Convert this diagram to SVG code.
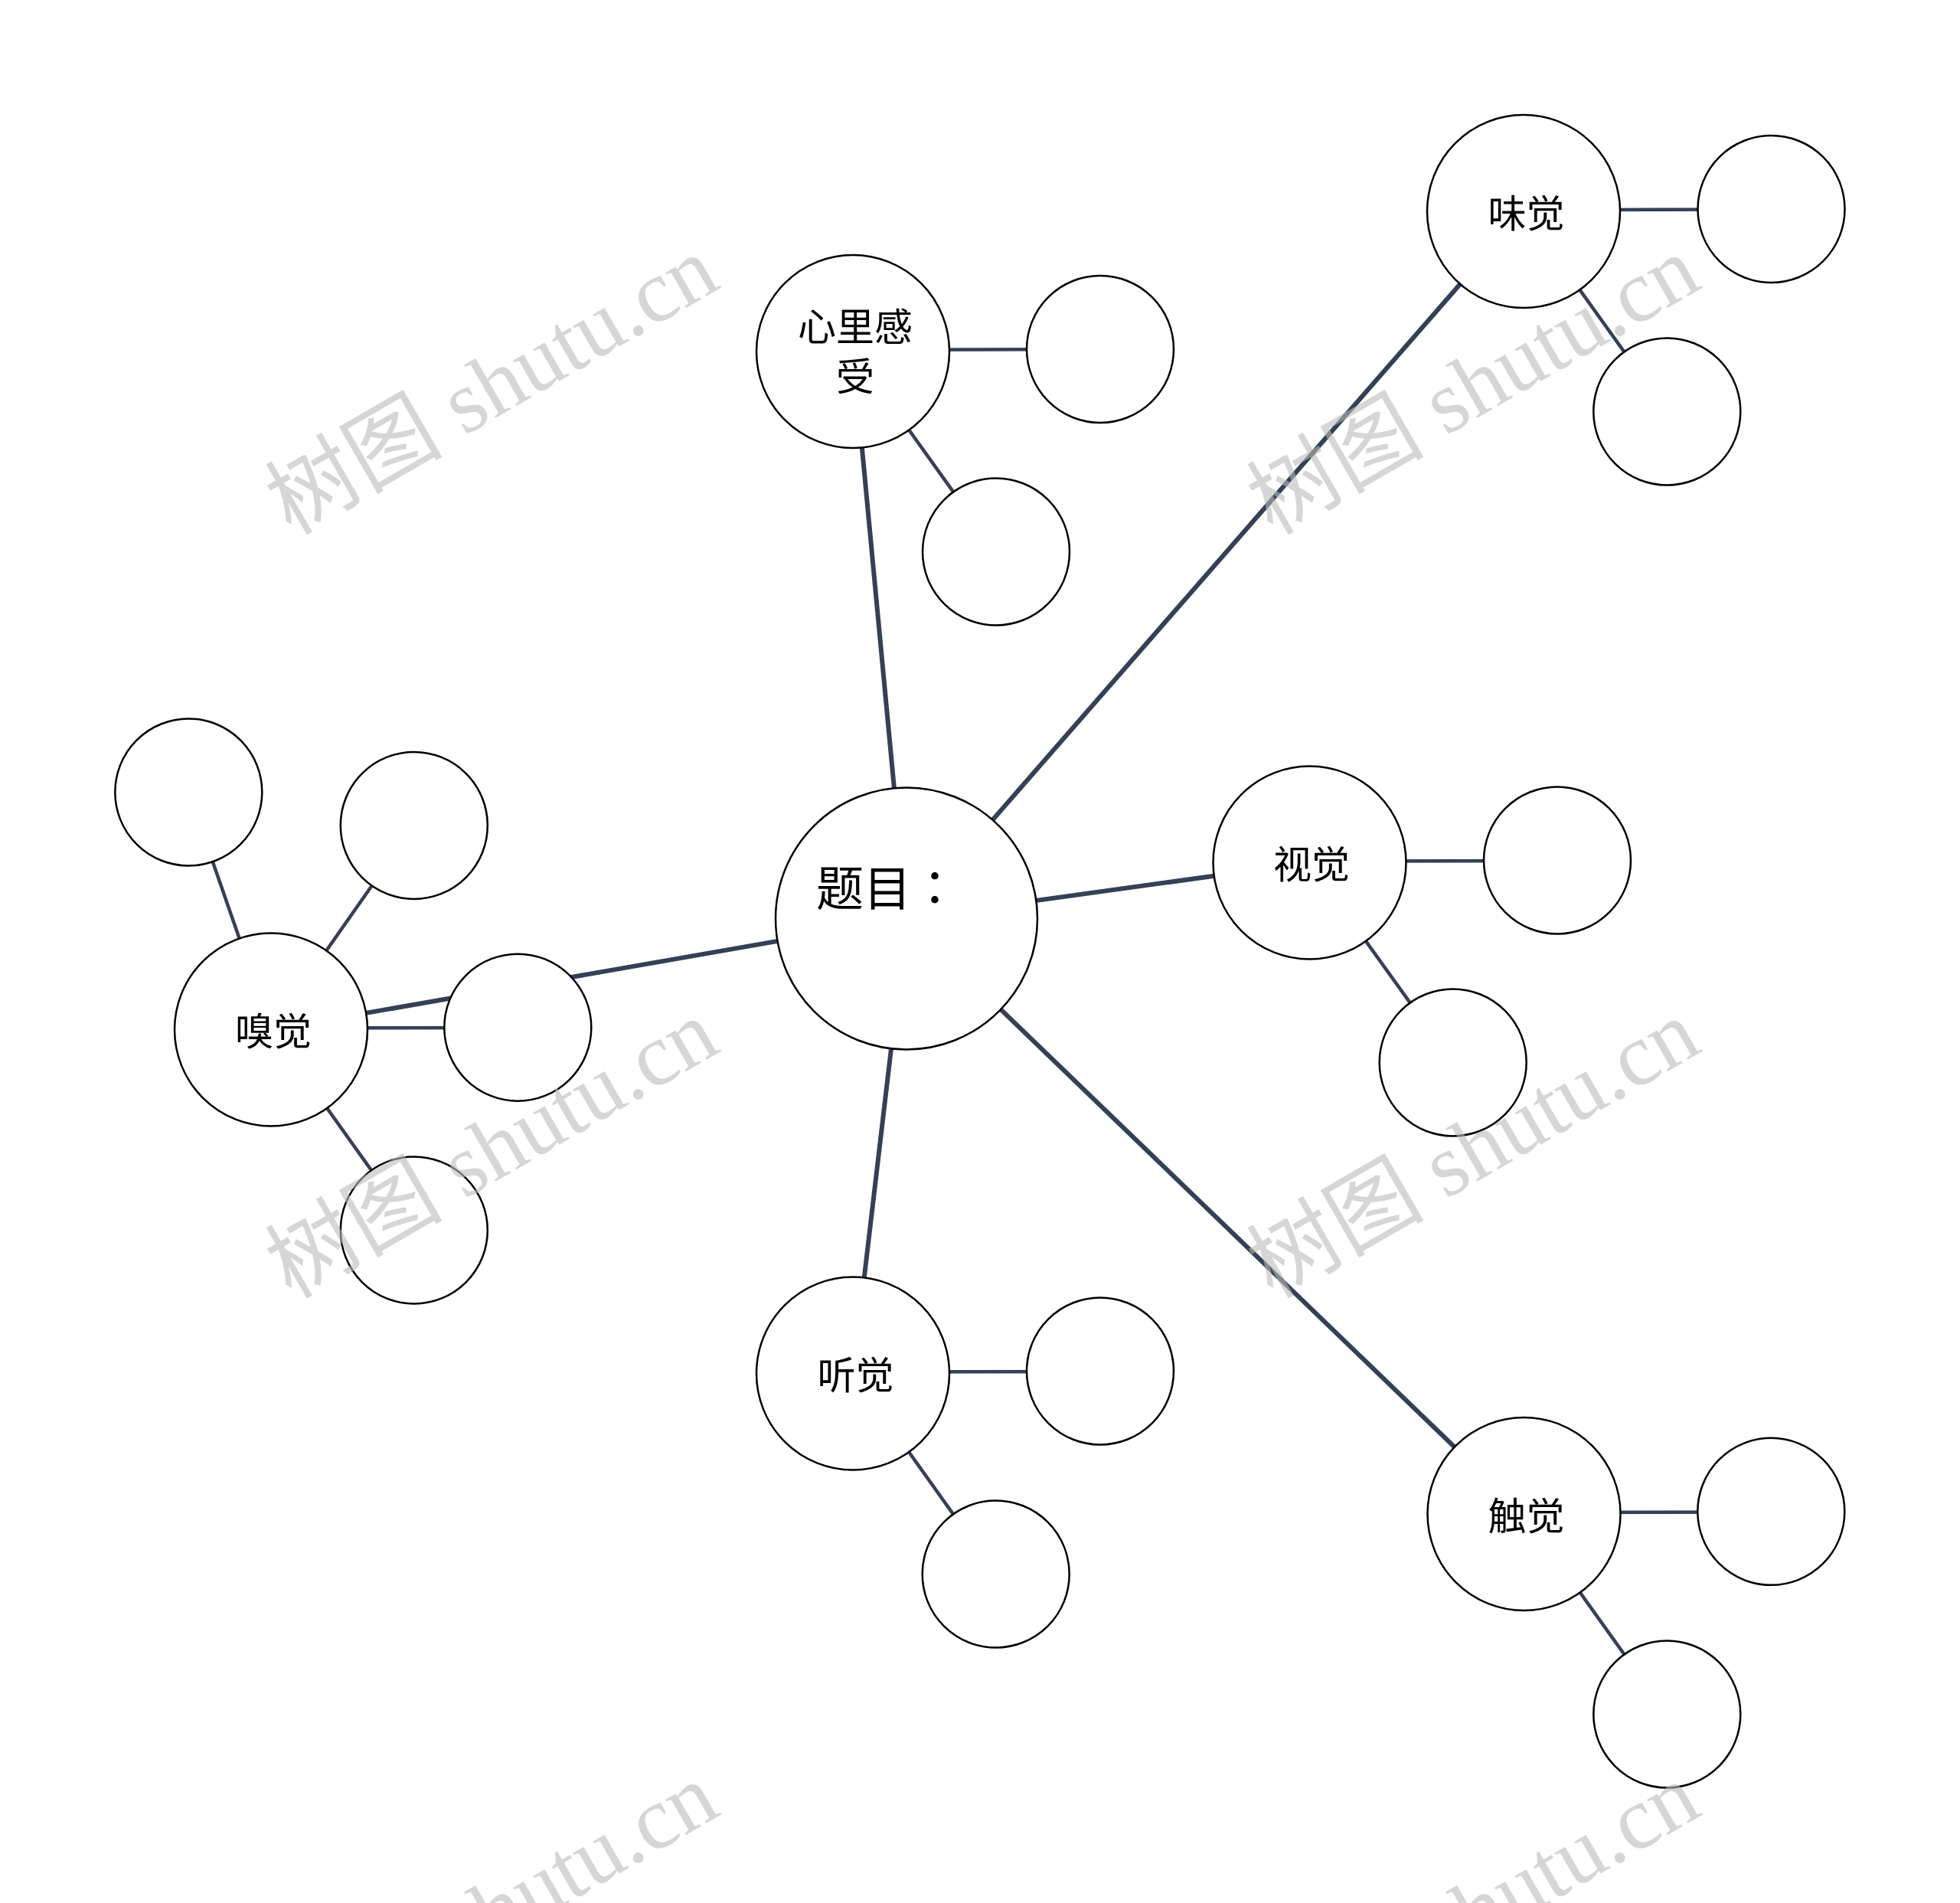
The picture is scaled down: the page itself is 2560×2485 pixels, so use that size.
<svg xmlns="http://www.w3.org/2000/svg" width="2560" height="2485" viewBox="0 0 2560 2485">
<style>
.main{stroke:#344055;stroke-width:6;fill:none}
.sub{stroke:#344055;stroke-width:4.5;fill:none}
.hub{fill:#fff;stroke:#000;stroke-width:2.5}
.leaf{fill:#fff;stroke:#000;stroke-width:2.5}
.lbl{font-family:"Noto Sans CJK SC","Noto Sans",sans-serif;font-size:50px;fill:#000;text-anchor:middle}
.title{font-family:"Noto Sans CJK SC","Noto Sans",sans-serif;font-size:62px;fill:#000}
.wm{font-family:"Liberation Serif","Noto Sans CJK SC",serif;font-size:116px;fill:#bbbbbb;fill-opacity:0.6}
</style>
<rect width="2560" height="2485" fill="#fff"/>
<g id="connectors">
  <line class="main" x1="1184" y1="1199.5" x2="1114" y2="459"/>
  <line class="main" x1="1184" y1="1199.5" x2="1990" y2="276"/>
  <line class="main" x1="1184" y1="1199.5" x2="1710.5" y2="1126.5"/>
  <line class="main" x1="1184" y1="1199.5" x2="354" y2="1344.5"/>
  <line class="main" x1="1184" y1="1199.5" x2="1114" y2="1793.5"/>
  <line class="main" x1="1184" y1="1199.5" x2="1990.5" y2="1977"/>
  <line class="sub" x1="1114" y1="457" x2="1437" y2="456"/>
  <line class="sub" x1="1114" y1="459" x2="1301" y2="720.5"/>
  <line class="sub" x1="1990" y1="274" x2="2313.5" y2="273.5"/>
  <line class="sub" x1="1990" y1="276" x2="2177.3" y2="537.5"/>
  <line class="sub" x1="1710.5" y1="1124.5" x2="2034" y2="1124"/>
  <line class="sub" x1="1710.5" y1="1126.5" x2="1897.7" y2="1387.5"/>
  <line class="sub" x1="354" y1="1344.5" x2="246.3" y2="1034.5"/>
  <line class="sub" x1="354" y1="1344.5" x2="540.8" y2="1077.9"/>
  <line class="sub" x1="354" y1="1342.5" x2="676.3" y2="1342"/>
  <line class="sub" x1="354" y1="1344.5" x2="540.8" y2="1606.4"/>
  <line class="sub" x1="1114" y1="1791.5" x2="1437" y2="1791"/>
  <line class="sub" x1="1114" y1="1793.5" x2="1300.7" y2="2055.5"/>
  <line class="sub" x1="1990.5" y1="1975" x2="2313.3" y2="1974.5"/>
  <line class="sub" x1="1990.5" y1="1977" x2="2177.3" y2="2238.5"/>
</g>
<g id="node-center">
  <circle class="hub" cx="1184" cy="1199.5" r="171"/>
  <text class="title" x="1066" y="1182.5">题目<tspan font-family="Noto Sans CJK TC, sans-serif">：</tspan></text>
</g>
<g id="node-xinli">
  <circle class="hub" cx="1114" cy="459" r="126"/>
  <text class="lbl" x="1117" y="444.5">心里感</text>
  <text class="lbl" x="1117" y="509.5">受</text>
</g>
<g id="node-xinli-c1"><circle class="leaf" cx="1437" cy="456" r="96"/></g>
<g id="node-xinli-c2"><circle class="leaf" cx="1301" cy="720.5" r="96"/></g>
<g id="node-weijue">
  <circle class="hub" cx="1990" cy="276" r="126"/>
  <text class="lbl" x="1993.5" y="296.5">味觉</text>
</g>
<g id="node-weijue-c1"><circle class="leaf" cx="2313.5" cy="273" r="96"/></g>
<g id="node-weijue-c2"><circle class="leaf" cx="2177.3" cy="537.5" r="96"/></g>
<g id="node-shijue">
  <circle class="hub" cx="1710.5" cy="1126.5" r="126"/>
  <text class="lbl" x="1713" y="1147">视觉</text>
</g>
<g id="node-shijue-c1"><circle class="leaf" cx="2034" cy="1123.5" r="96"/></g>
<g id="node-shijue-c2"><circle class="leaf" cx="1897.7" cy="1387.5" r="96"/></g>
<g id="node-xiujue">
  <circle class="hub" cx="354" cy="1344.5" r="126"/>
  <text class="lbl" x="357" y="1365">嗅觉</text>
</g>
<g id="node-xiujue-c1"><circle class="leaf" cx="246.3" cy="1034.5" r="96"/></g>
<g id="node-xiujue-c2"><circle class="leaf" cx="540.8" cy="1077.9" r="96"/></g>
<g id="node-xiujue-c3"><circle class="leaf" cx="676.3" cy="1341.7" r="96"/></g>
<g id="node-xiujue-c4"><circle class="leaf" cx="540.8" cy="1606.4" r="96"/></g>
<g id="node-tingjue">
  <circle class="hub" cx="1114" cy="1793.5" r="126"/>
  <text class="lbl" x="1117.5" y="1814">听觉</text>
</g>
<g id="node-tingjue-c1"><circle class="leaf" cx="1437" cy="1790.5" r="96"/></g>
<g id="node-tingjue-c2"><circle class="leaf" cx="1300.7" cy="2055.5" r="96"/></g>
<g id="node-chujue">
  <circle class="hub" cx="1990.5" cy="1977" r="126"/>
  <text class="lbl" x="1993.5" y="1997.5">触觉</text>
</g>
<g id="node-chujue-c1"><circle class="leaf" cx="2313.3" cy="1973.8" r="96"/></g>
<g id="node-chujue-c2"><circle class="leaf" cx="2177.3" cy="2238.5" r="96"/></g>
<g id="watermark">
  <text class="wm" transform="translate(380,700) rotate(-30)">树图 shutu.cn</text>
  <text class="wm" transform="translate(1662,700) rotate(-30)">树图 shutu.cn</text>
  <text class="wm" transform="translate(380,1697) rotate(-30)">树图 shutu.cn</text>
  <text class="wm" transform="translate(1662,1697) rotate(-30)">树图 shutu.cn</text>
  <text class="wm" transform="translate(380,2694) rotate(-30)">树图 shutu.cn</text>
  <text class="wm" transform="translate(1662,2694) rotate(-30)">树图 shutu.cn</text>
</g>
</svg>
